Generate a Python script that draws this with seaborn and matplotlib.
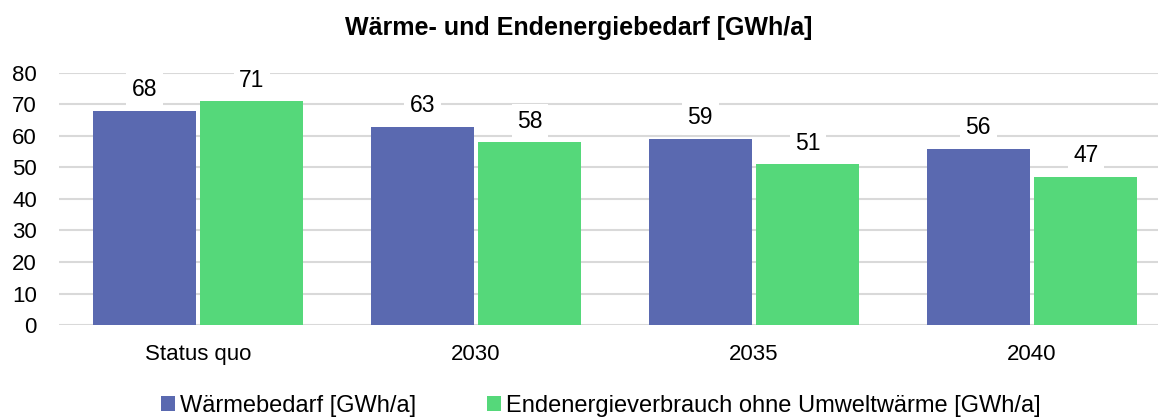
import matplotlib
matplotlib.use("Agg")
import matplotlib.pyplot as plt
import seaborn as sns
import pandas as pd

categories = ["Status quo", "2030", "2035", "2040"]
waermebedarf = [68, 63, 59, 56]
endenergie = [71, 58, 51, 47]
series_names = ["Wärmebedarf [GWh/a]", "Endenergieverbrauch ohne Umweltwärme [GWh/a]"]
colors = ["#5A69B0", "#55D87A"]

df = pd.DataFrame({
    "Kategorie": categories * 2,
    "Wert": waermebedarf + endenergie,
    "Reihe": [series_names[0]] * len(categories) + [series_names[1]] * len(categories),
})

sns.set_theme(style="white")
plt.rcParams["font.family"] = ["Liberation Sans", "DejaVu Sans"]
plt.rcParams["text.color"] = "black"

fig = plt.figure(figsize=(11.58, 4.17), dpi=100)
ax = fig.add_axes([0.051, 0.2206, 0.949, 0.6044])

sns.barplot(data=df, x="Kategorie", y="Wert", hue="Reihe", order=categories,
            hue_order=series_names, palette=colors, width=0.773, gap=0.04,
            saturation=1, ax=ax, legend=True, edgecolor="none")

ax.set_ylim(0, 80)
ax.set_yticks(range(0, 81, 10))
ax.yaxis.grid(True, color="#d9d9d9", linewidth=1.5)
ax.set_axisbelow(True)
for s in ax.spines.values():
    s.set_visible(False)
ax.set_xlabel("")
ax.set_ylabel("")
ax.tick_params(axis="both", labelsize=16, colors="black", length=0)
ax.tick_params(axis="x", pad=14)
ax.tick_params(axis="y", pad=16)
ax.set_xlim(-0.5, 3.453)

for cont in ax.containers:
    ax.bar_label(cont, labels=[f"{v:.0f}" for v in cont.datavalues], padding=7,
                 fontsize=16.5, color="black",
                 bbox=dict(facecolor="white", edgecolor="none", pad=4))

fig.suptitle("Wärme- und Endenergiebedarf [GWh/a]", fontsize=18,
             fontweight="bold", y=0.962, color="black")

handles, labels = ax.get_legend_handles_labels()
ax.get_legend().remove()
fig.legend(handles, labels, loc="lower center", bbox_to_anchor=(0.519, -0.05),
           ncol=2, frameon=False, fontsize=17, handlelength=0.6,
           handleheight=0.6, handletextpad=0.2, columnspacing=3.0,
           labelcolor="black")

fig.savefig("out.png", dpi=100)
